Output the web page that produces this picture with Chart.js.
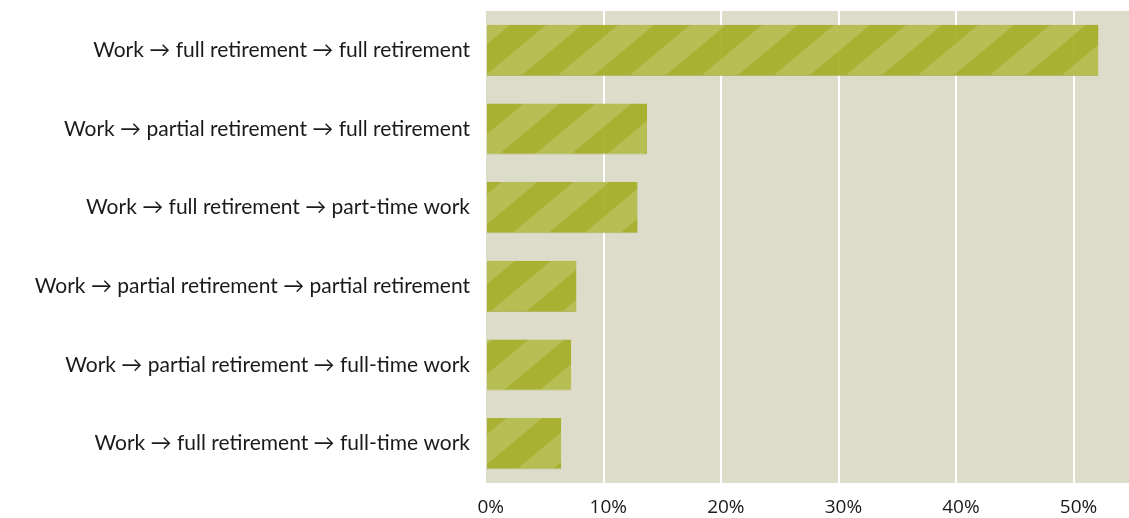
<!DOCTYPE html>
<html lang="en">
<head>
  <meta charset="utf-8">
  <script src="https://cdn.jsdelivr.net/npm/chart.js@4/dist/chart.umd.min.js"></script>
  <title>Retirement paths</title>
</head>
<body>
  <canvas id="paths-chart" width="1129" height="518"></canvas>
</body>
</html>

<style>
  html, body {
    margin: 0;
    padding: 0;
    background: #ffffff;
  }
  #paths-chart {
    display: block;
  }
</style>

<script>
const labels = [
  "Work \u2192 full retirement \u2192 full retirement",
  "Work \u2192 partial retirement \u2192 full retirement",
  "Work \u2192 full retirement \u2192 part-time work",
  "Work \u2192 partial retirement \u2192 partial retirement",
  "Work \u2192 partial retirement \u2192 full-time work",
  "Work \u2192 full retirement \u2192 full-time work"
];
const shares = [52.1, 13.7, 12.9, 7.7, 7.25, 6.4];
const xTicks = [0, 10, 20, 30, 40, 50];

// diagonal stripes for the bars
function stripes() {
  const c = document.createElement("canvas");
  c.width = 72;
  c.height = 60;
  const g = c.getContext("2d");
  g.fillStyle = "rgba(163, 174, 36, 0.92)";
  g.fillRect(0, 0, 72, 60);
  g.fillStyle = "rgba(184, 191, 86, 0.9)";
  for (let off = -144; off <= 144; off += 72) {
    g.beginPath();
    g.moveTo(off, 60);
    g.lineTo(off + 36, 60);
    g.lineTo(off + 36 + 72, 0);
    g.lineTo(off + 72, 0);
    g.closePath();
    g.fill();
  }
  return g.createPattern(c, "repeat");
}

const plotBg = {
  id: "plotBg",
  beforeDraw(chart) {
    const a = chart.chartArea;
    const ctx = chart.ctx;
    ctx.save();
    ctx.fillStyle = "#dddbc9";
    ctx.fillRect(a.left, a.top, a.right - a.left, a.bottom - a.top);
    ctx.restore();
  }
};

const canvas = document.getElementById("paths-chart");

const config = {
  type: "bar",
  data: {
    labels: labels,
    datasets: [{
      data: shares,
      backgroundColor: stripes(),
      borderColor: "rgba(150, 160, 30, 0.6)",
      borderWidth: { bottom: 1, top: 0, left: 0, right: 0 },
      categoryPercentage: 1.0,
      barPercentage: 0.65
    }]
  },
  options: {
    indexAxis: "y",
    responsive: false,
    animation: false,
    layout: { padding: { top: 11, right: 0, left: 0, bottom: 0 } },
    scales: {
      x: {
        min: 0,
        max: 54.7,
        afterBuildTicks: axis => {
          axis.ticks = xTicks.map(v => ({ value: v }));
        },
        afterFit: axis => {
          axis.height = 35;
          axis.paddingLeft = 0;
          axis.paddingRight = 0;
        },
        border: { display: false },
        grid: {
          color: ctx => ctx.tick && ctx.tick.value === 0 ? "rgba(0,0,0,0)" : "#ffffff",
          lineWidth: 2,
          drawTicks: false
        },
        ticks: {
          padding: 13,
          color: "#1a1a1a",
          font: { family: "Open Sans", size: 19 },
          callback: v => "\u2002" + v + "%"
        }
      },
      y: {
        afterFit: axis => {
          axis.width = 486;
          axis.paddingTop = 0;
          axis.paddingBottom = 0;
        },
        border: { display: false },
        grid: { display: false, drawTicks: false },
        ticks: {
          padding: 16,
          color: "#1a1a1a",
          font: { family: "Lato", size: 21 }
        }
      }
    },
    plugins: {
      legend: { display: false },
      tooltip: { enabled: false }
    }
  },
  plugins: [plotBg]
};

var chart = new Chart(canvas, config);
</script>
